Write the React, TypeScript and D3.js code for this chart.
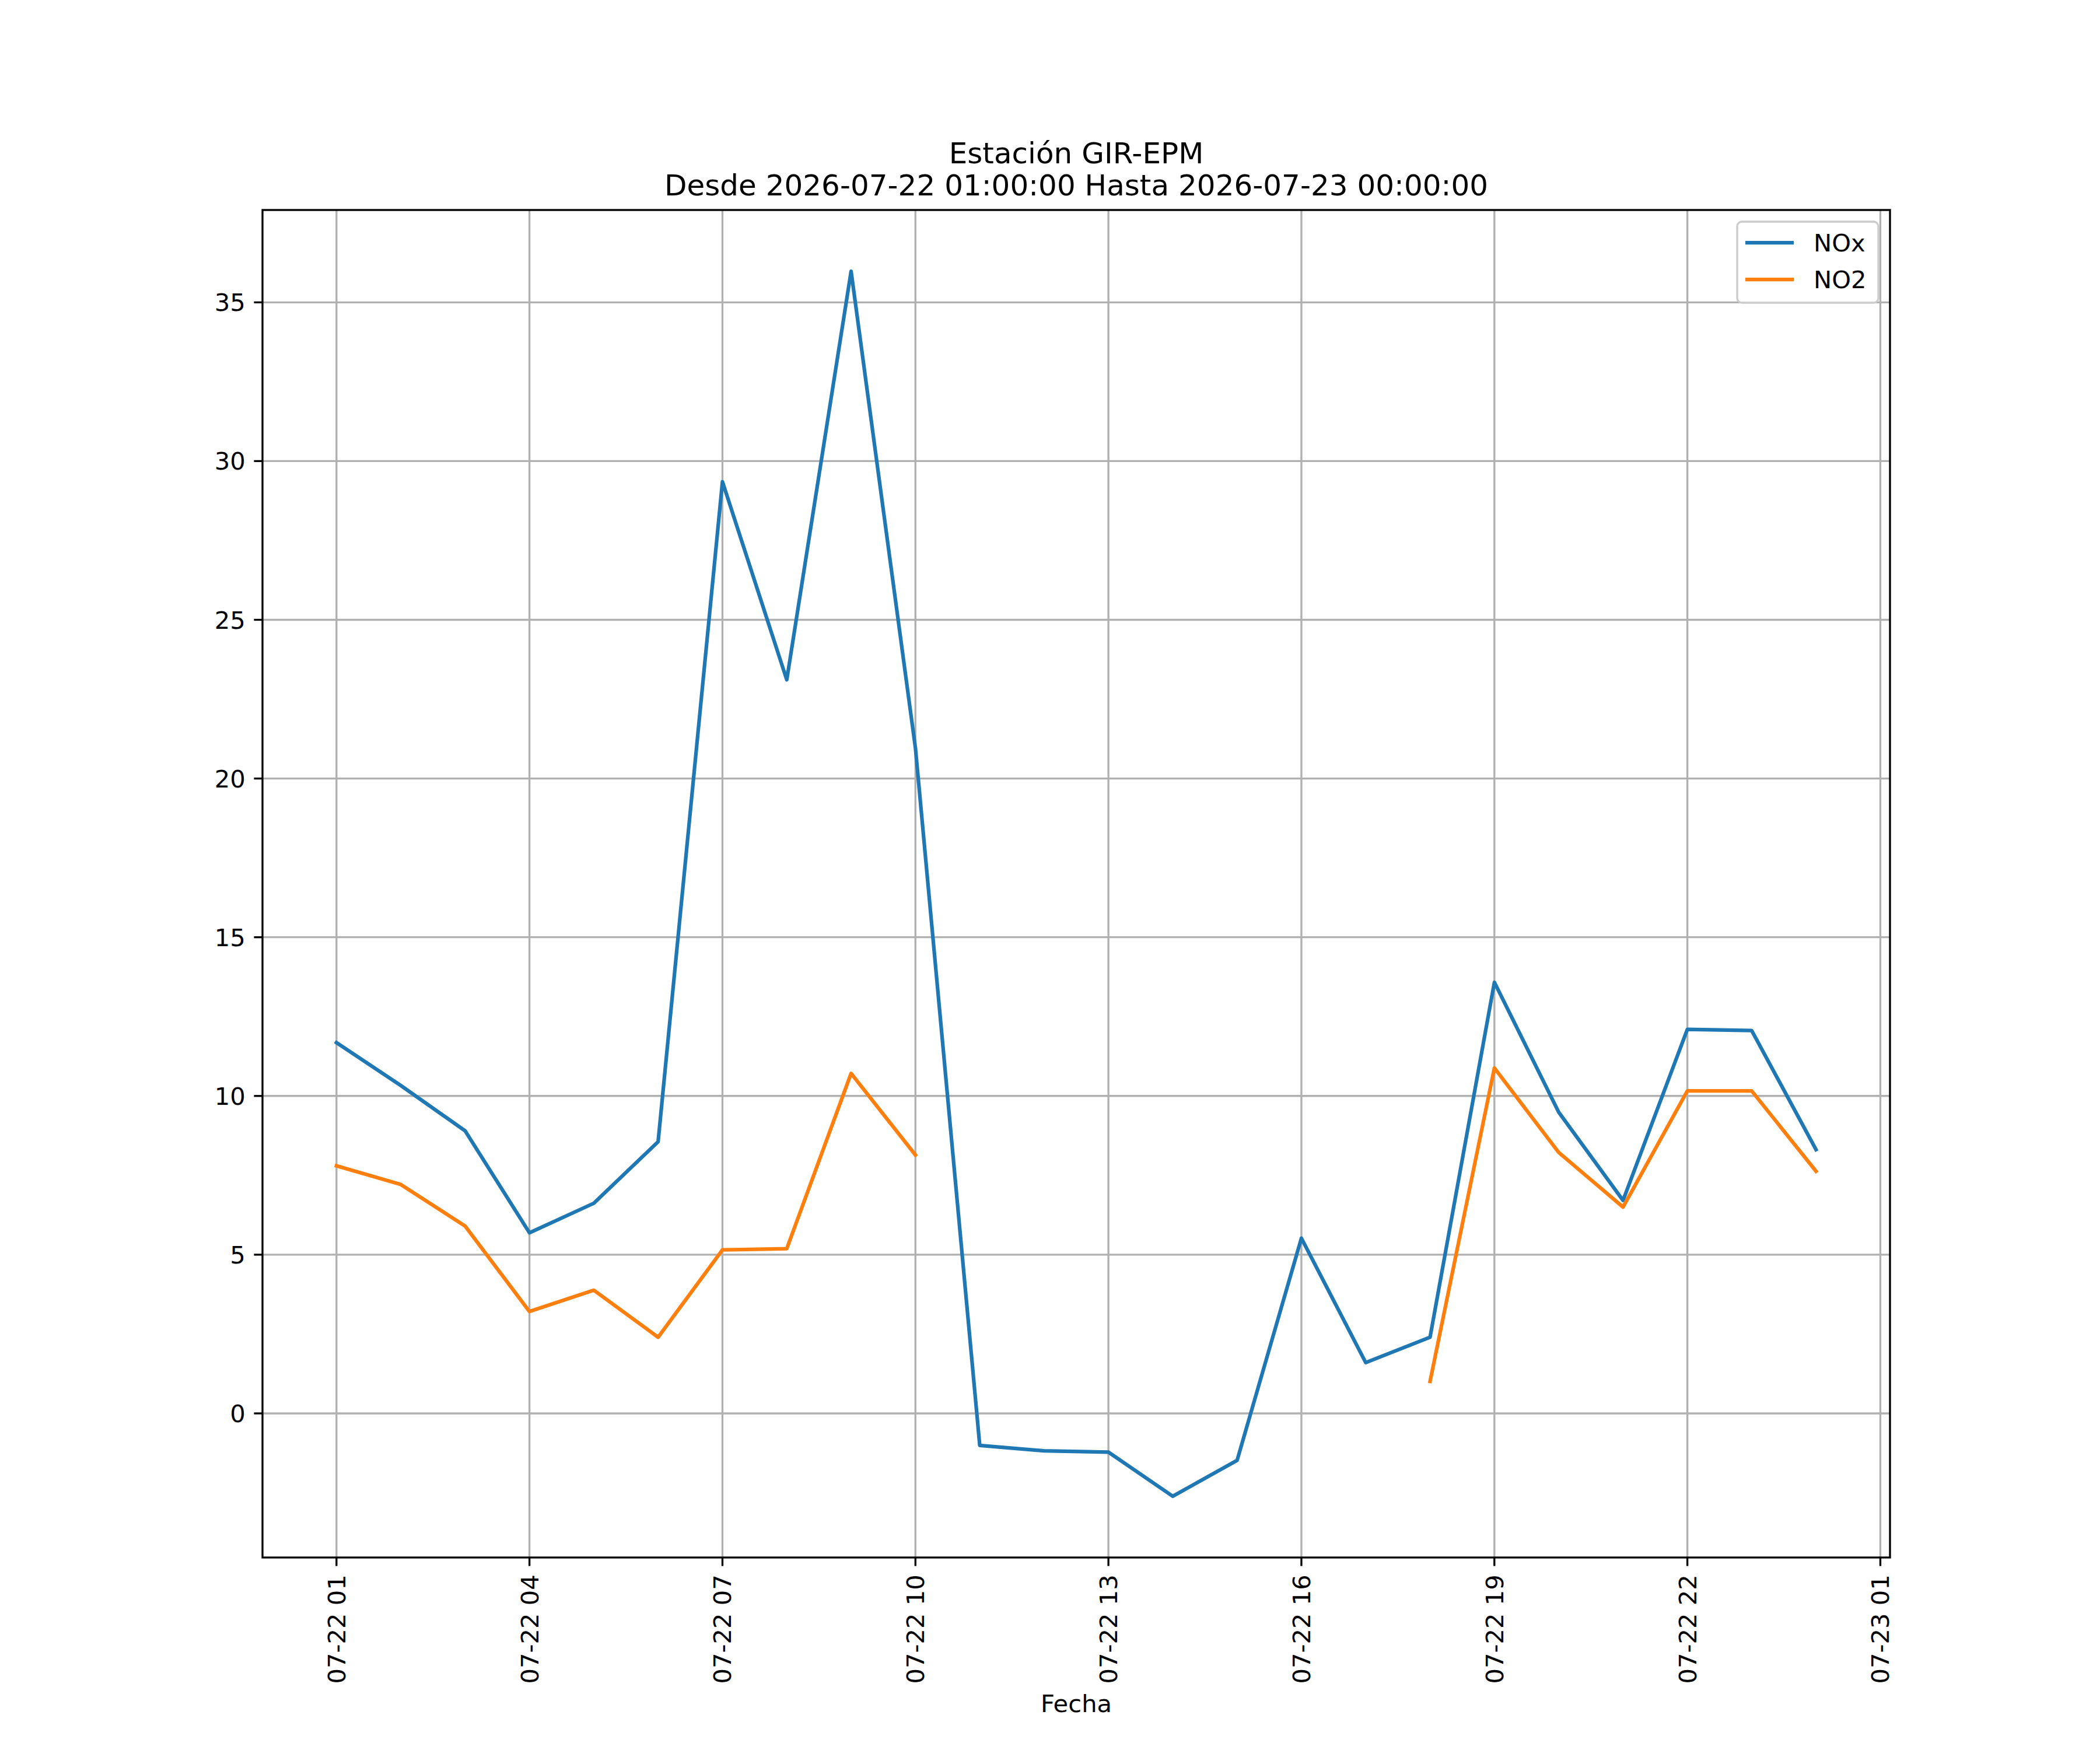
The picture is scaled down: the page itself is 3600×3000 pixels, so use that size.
import * as d3 from "d3";
import React from "react";

// hourly readings, 2026-07-22 01:00 .. 2026-07-23 00:00
const startTime = new Date(2026, 6, 22, 1, 0, 0);
const hours = d3.range(24);
const noxValues: number[] = [
    11.68, 10.33, 8.90, 5.69, 6.62, 8.56, 29.35, 23.11, 35.98, 20.96,
    -1.01, -1.18, -1.22, -2.61, -1.48, 5.52, 1.60, 2.40, 13.58, 9.49,
    6.71, 12.10, 12.06, 8.31,
];
const no2Values: (number | null)[] = [
    7.80, 7.21, 5.90, 3.21, 3.88, 2.40, 5.15, 5.19, 10.71, 8.14,
    null, null, null, null, null, null, null, 1.01, 10.88, 8.22,
    6.50, 10.16, 10.16, 7.63,
];
const seriesNames = ["NOx", "NO2"];
const seriesColors = ["#1f77b4", "#ff7f0e"];
const titleLines = ["Estación GIR-EPM", "Desde 2026-07-22 01:00:00 Hasta 2026-07-23 00:00:00"];
const xLabel = "Fecha";

const W = 3600, H = 3000;
const m = { left: 450, right: 3240, top: 360, bottom: 2670 };
const fs = 41.67;
const font = "DejaVu Sans, sans-serif";
const lw = 6.25, thin = 3.33, tickLen = 14.6, pad = 14.6;

export default function App() {
    const times = hours.map(h => d3.timeHour.offset(startTime, h));
    const t0 = +times[0], t1 = +times[times.length - 1];
    const xm = (t1 - t0) * 0.05;
    const x = d3.scaleTime().domain([new Date(t0 - xm), new Date(t1 + xm)]).range([m.left, m.right]);

    const all = [...noxValues, ...(no2Values.filter(v => v != null) as number[])];
    const lo = d3.min(all)!, hi = d3.max(all)!;
    const ym = (hi - lo) * 0.05;
    const y = d3.scaleLinear().domain([lo - ym, hi + ym]).range([m.bottom, m.top]);

    const xTicks = d3.timeHour.range(times[0], new Date(t1 + xm), 3);
    const yTicks = y.ticks(10);
    const fmt = d3.timeFormat("%m-%d %H");

    const line = d3.line<number | null>()
        .defined(d => d != null)
        .x((_, i) => x(times[i]))
        .y(d => y(d as number));

    const series = [noxValues, no2Values];
    const cx = (m.left + m.right) / 2;
    const legX = 2978, legY = 380, legW = 242, legH = 139;

    return (
        <svg width={W} height={H} style={{ position: "absolute", left: 0, top: 0, background: "#fff" }} fontFamily={font}>
            <rect width={W} height={H} fill="#fff" />
            <defs>
                <clipPath id="plot"><rect x={m.left} y={m.top} width={m.right - m.left} height={m.bottom - m.top} /></clipPath>
            </defs>
            {/* grid */}
            <g stroke="#b0b0b0" strokeWidth={thin}>
                {xTicks.map((t, i) => <line key={"gx" + i} x1={x(t)} x2={x(t)} y1={m.top} y2={m.bottom} />)}
                {yTicks.map((v, i) => <line key={"gy" + i} x1={m.left} x2={m.right} y1={y(v)} y2={y(v)} />)}
            </g>
            {/* lines */}
            <g clipPath="url(#plot)" fill="none" strokeLinejoin="round" strokeLinecap="square">
                {series.map((s, i) => <path key={i} d={line(s)!} stroke={seriesColors[i]} strokeWidth={lw} />)}
            </g>
            {/* spines */}
            <rect x={m.left} y={m.top} width={m.right - m.left} height={m.bottom - m.top} fill="none" stroke="#000" strokeWidth={thin} />
            {/* y axis */}
            {yTicks.map((v, i) => (
                <g key={"yt" + i}>
                    <line x1={m.left - tickLen} x2={m.left} y1={y(v)} y2={y(v)} stroke="#000" strokeWidth={thin} />
                    <text x={m.left - tickLen - pad} y={y(v)} dy="0.36em" textAnchor="end" fontSize={fs}>{v}</text>
                </g>
            ))}
            {/* x axis */}
            {xTicks.map((t, i) => (
                <g key={"xt" + i}>
                    <line x1={x(t)} x2={x(t)} y1={m.bottom} y2={m.bottom + tickLen} stroke="#000" strokeWidth={thin} />
                    <text transform={`translate(${x(t)},${m.bottom + tickLen + pad}) rotate(-90)`} dy="0.36em" textAnchor="end" fontSize={fs}>{fmt(t)}</text>
                </g>
            ))}
            <text x={cx} y={2935} textAnchor="middle" fontSize={fs}>{xLabel}</text>
            {/* title */}
            <text x={cx} y={280} textAnchor="middle" fontSize={50}>{titleLines[0]}</text>
            <text x={cx} y={335} textAnchor="middle" fontSize={50}>{titleLines[1]}</text>
            {/* legend */}
            <rect x={legX} y={legY} width={legW} height={legH} rx={8} fill="#fff" fillOpacity={0.8} stroke="#cccccc" strokeWidth={thin} />
            {seriesNames.map((n, i) => {
                const ly = 416 + i * 63;
                return (
                    <g key={"lg" + i}>
                        <line x1={2992} x2={3075} y1={ly} y2={ly} stroke={seriesColors[i]} strokeWidth={lw} />
                        <text x={3109} y={ly} dy="0.36em" fontSize={fs}>{n}</text>
                    </g>
                );
            })}
        </svg>
    );
}
